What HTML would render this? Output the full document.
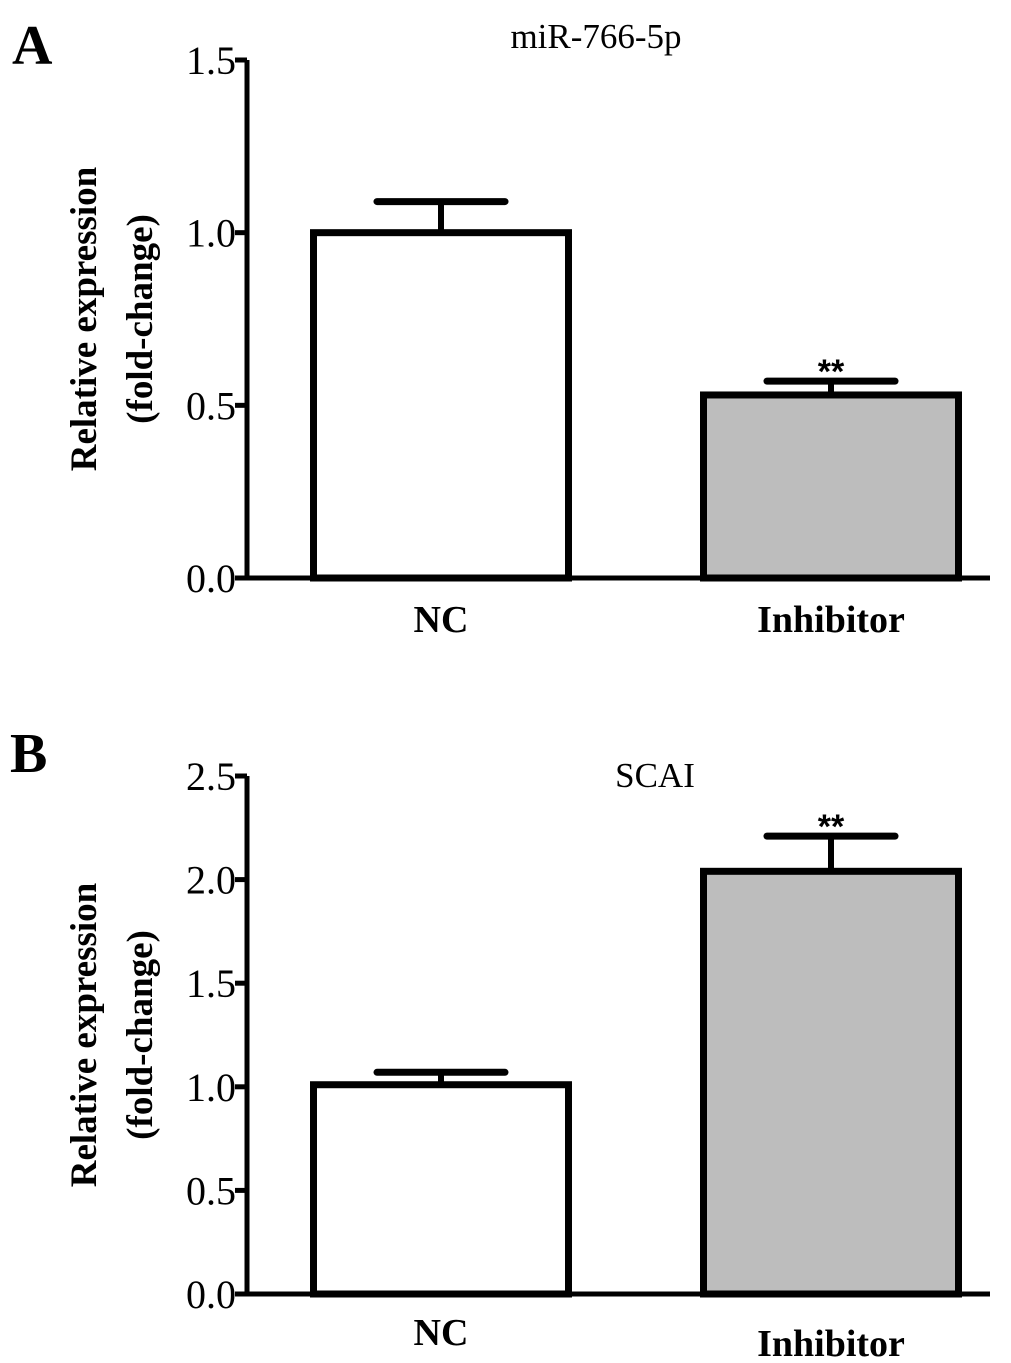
<!DOCTYPE html>
<html><head><meta charset="utf-8"><style>
html,body{margin:0;padding:0;background:#fff;}
svg{display:block;font-family:"Liberation Serif",serif;}
</style></head><body>
<svg id="fig" width="1011" height="1363" viewBox="0 0 1011 1363"></svg>
<script>
const categories = ["NC", "Inhibitor"];
const valuesA = [1.0, 0.53];
const errorsA = [0.09, 0.04];
const ticksA = ["0.0", "0.5", "1.0", "1.5"];
const valuesB = [1.01, 2.04];
const errorsB = [0.06, 0.17];
const ticksB = ["0.0", "0.5", "1.0", "1.5", "2.0", "2.5"];
const fills = ["#ffffff", "#bdbdbd"];
const sigA = ["", "**"];
const sigB = ["", "**"];

const NS = "http://www.w3.org/2000/svg";
const svg = document.getElementById('fig');
function mk(tag, attrs, parent) {
  const e = document.createElementNS(NS, tag);
  for (const k in attrs) e.setAttribute(k, attrs[k]);
  (parent || svg).appendChild(e);
  return e;
}

function panel(cfg) {
  const g = mk('g', {});
  
  
  const x0 = 247, x1 = 990;
  const yMin = 0, yMax = cfg.max;
  const y = v => cfg.base - (v - yMin) / (yMax - yMin) * (cfg.base - cfg.top);
  const barW = 262;
  const centers = [441, 831];
  const xc = i => centers[i];

  const L = mk('text', {x: cfg.letterX, y: cfg.letterY, 'font-size': 56, 'font-weight': 'bold'}, g);
  L.textContent = cfg.letter;
  
  
  const T = mk('text', {x: cfg.titleX, y: cfg.titleY, 'font-size': 35, 'text-anchor': 'middle'}, g);
  T.textContent = cfg.title;
  
  
  const mid = (cfg.top + cfg.base) / 2;
  const yl = mk('text', {transform: `translate(96,${mid}) rotate(-90)`, 'font-size': 37, 'font-weight': 'bold', 'text-anchor': 'middle'}, g);
  yl.textContent = 'Relative expression';
  
  
  const yl2 = mk('text', {transform: `translate(152,${mid}) rotate(-90)`, 'font-size': 37, 'font-weight': 'bold', 'text-anchor': 'middle'}, g);
  yl2.textContent = '(fold-change)';
  
  

  cfg.values.forEach((v, i) => {
    const b = mk('rect', {x: xc(i) - barW / 2 + 3.5, y: y(v), width: barW - 7, height: y(0) - y(v), fill: fills[i], stroke: '#000', 'stroke-width': 7}, g);
    
    
    const eTop = y(v + cfg.errors[i]);
    const el = mk('line', {x1: xc(i), x2: xc(i), y1: y(v), y2: eTop, stroke: '#000', 'stroke-width': 6}, g);
    
    
    const cap = mk('line', {x1: xc(i) - 64, x2: xc(i) + 64, y1: eTop, y2: eTop, stroke: '#000', 'stroke-width': 7, 'stroke-linecap': 'round'}, g);
    
    
    if (cfg.sig[i]) {
      const s = mk('text', {x: xc(i), y: eTop + 2, 'font-size': 34, 'font-weight': 'bold', 'text-anchor': 'middle', 'font-family': '"Liberation Sans",sans-serif'}, g);
      s.textContent = cfg.sig[i];
      
      
    }
    const xl = mk('text', {x: xc(i), y: cfg.xLabelY[i], 'font-size': 38, 'font-weight': 'bold', 'text-anchor': 'middle'}, g);
    xl.textContent = categories[i];
    
    
  });

  const ya = mk('line', {x1: x0, x2: x0, y1: cfg.top, y2: cfg.base + 2.5, stroke: '#000', 'stroke-width': 5}, g);
  
  
  const xa = mk('line', {x1: x0 - 12, x2: x1, y1: cfg.base, y2: cfg.base, stroke: '#000', 'stroke-width': 5}, g);
  
  
  cfg.ticks.forEach(t => {
    const v = parseFloat(t);
    const tk = mk('line', {x1: x0 - 12, x2: x0, y1: y(v), y2: y(v), stroke: '#000', 'stroke-width': 5}, g);
    
    
    const tl = mk('text', {x: x0 - 11, y: y(v) + 14, 'font-size': 40, 'text-anchor': 'end'}, g);
    tl.textContent = t;
    
    
  });
}

panel({name: 'panel-a', letter: 'A', letterX: 12, letterY: 64, title: 'miR-766-5p', titleX: 596, titleY: 48,
  values: valuesA, errors: errorsA, ticks: ticksA, sig: sigA, max: 1.5, top: 60, base: 578, xLabelY: [632, 632]});
panel({name: 'panel-b', letter: 'B', letterX: 10, letterY: 772, title: 'SCAI', titleX: 655, titleY: 787,
  values: valuesB, errors: errorsB, ticks: ticksB, sig: sigB, max: 2.5, top: 776, base: 1294, xLabelY: [1345, 1356]});
</script>
</body></html>
